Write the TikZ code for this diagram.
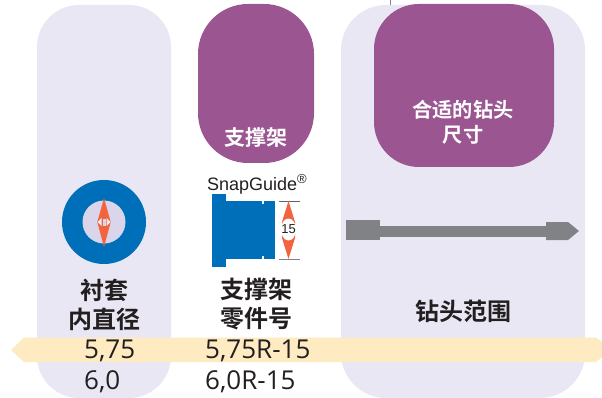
\documentclass[tikz,border=0pt]{standalone}
\usepackage{fontspec}
\setmainfont{Open Sans}
\setsansfont{Liberation Sans}
\newfontfamily\cjk{Noto Sans CJK SC}[BoldFont={Noto Sans CJK SC Bold}]
\definecolor{panelc}{HTML}{E9E7F3}
\definecolor{purplec}{HTML}{9B5692}
\definecolor{bluec}{HTML}{006FBA}
\definecolor{innerc}{HTML}{DAD5EA}
\definecolor{orangec}{HTML}{F2643D}
\definecolor{bandc}{HTML}{FEEBC2}
\definecolor{greyc}{HTML}{808285}
\definecolor{inkc}{HTML}{231F20}
\tikzset{
  panel/.style={fill=panelc,draw=none},
  headbox/.style={fill=purplec,draw=none},
  cjkhead/.style={font=\cjk\bfseries\fontsize{24}{29}\selectfont,text=inkc,align=center,inner sep=0pt},
  cjkwhite/.style={font=\cjk\bfseries\fontsize{20.2}{25}\selectfont,text=white,align=center,inner sep=0pt},
  val/.style={font=\fontsize{26}{30}\selectfont,text=inkc,anchor=west,inner sep=0pt},
}
\begin{document}
\begin{tikzpicture}[x=1pt,y=-1pt]
\useasboundingbox (0,0) rectangle (602,398);
\fill[white] (0,0) rectangle (602,398);
\draw[greyc,line width=1pt] (390,0) -- (390,5);
% panels
\fill[panel,rounded corners=42pt] (37,5) rectangle (171,398);
\fill[panel,rounded corners=45pt] (341,5) rectangle (585,398);
% purple boxes
\fill[headbox,rounded corners=50pt] (198,4) rectangle (314,163);
\fill[headbox,rounded corners=45pt] (374,4) rectangle (554,167);
\node[cjkwhite,font=\cjk\bfseries\fontsize{21}{25}\selectfont] (t1) at (256,138) {支撑架};
\node[cjkwhite] (t2) at (463,122.5) {合适的钻头\\尺寸};
% bushing
\fill[bluec] (104,222) circle[radius=42];
\fill[innerc] (104,222) circle[radius=21.5];
\fill[orangec] (104,198) -- (110.7,222) -- (104,247) -- (97.3,222) -- cycle;
\fill[innerc!40!white] (97.5,222) -- (101.5,218) -- (101.5,226) -- cycle;
\fill[innerc!40!white] (110.5,222) -- (106.5,218) -- (106.5,226) -- cycle;
\fill[innerc] (102.5,218.5) rectangle (105.5,225.5);
% snapguide
\node[font=\sffamily\fontsize{18}{20}\selectfont,text=inkc,inner sep=0pt] (sg) at (257,184) {SnapGuide\raisebox{0.38em}{\fontsize{13}{14}\selectfont\textregistered}};
\fill[bluec] (212,194) rectangle (226,267);
\fill[bluec] (226,201) rectangle (275,259);
\fill[white] (262,201) rectangle (264,204);
\fill[white] (262,256) rectangle (264,259);
\draw[inkc!70,line width=0.8pt] (279,201.5) -- (300,201.5);
\draw[greyc,line width=1pt] (279,259) -- (300,259);
\fill[orangec] (288.5,201) -- (295,222) -- (295,238) -- (288.5,259) -- (282,238) -- (282,222) -- cycle;
\fill[white] (288.5,229.5) ellipse[x radius=7.5,y radius=11];
\node[font=\sffamily\fontsize{13}{14}\selectfont,text=inkc,inner sep=0pt] (d15) at (288.5,229.5) {15};
% grey drill
\fill[greyc] (346,220) rectangle (380,240);
\fill[greyc] (380,226) rectangle (546,237);
\fill[greyc] (546,222) -- (568,222) -- (579,231) -- (568,240) -- (546,240) -- cycle;
% headings
\node[cjkhead] (h1) at (104,304.5) {衬套\\内直径};
\node[cjkhead] (h2) at (256,304.5) {支撑架\\零件号};
\node[cjkhead] (h3) at (463,311) {钻头范围};
% band
\fill[bandc] (11,350) -- (24,337.5) -- (596,337.5) -- (602,342) -- (602,357) -- (596,362) -- (24,362) -- cycle;
% values
\node[val] (v1) at (84,351) {5,75};
\node[val] (v2) at (84,382) {6,0};
\node[val] (v3) at (205,351) {5,75R-15};
\node[val] (v4) at (205,382) {6,0R-15};
\end{tikzpicture}
\end{document}
